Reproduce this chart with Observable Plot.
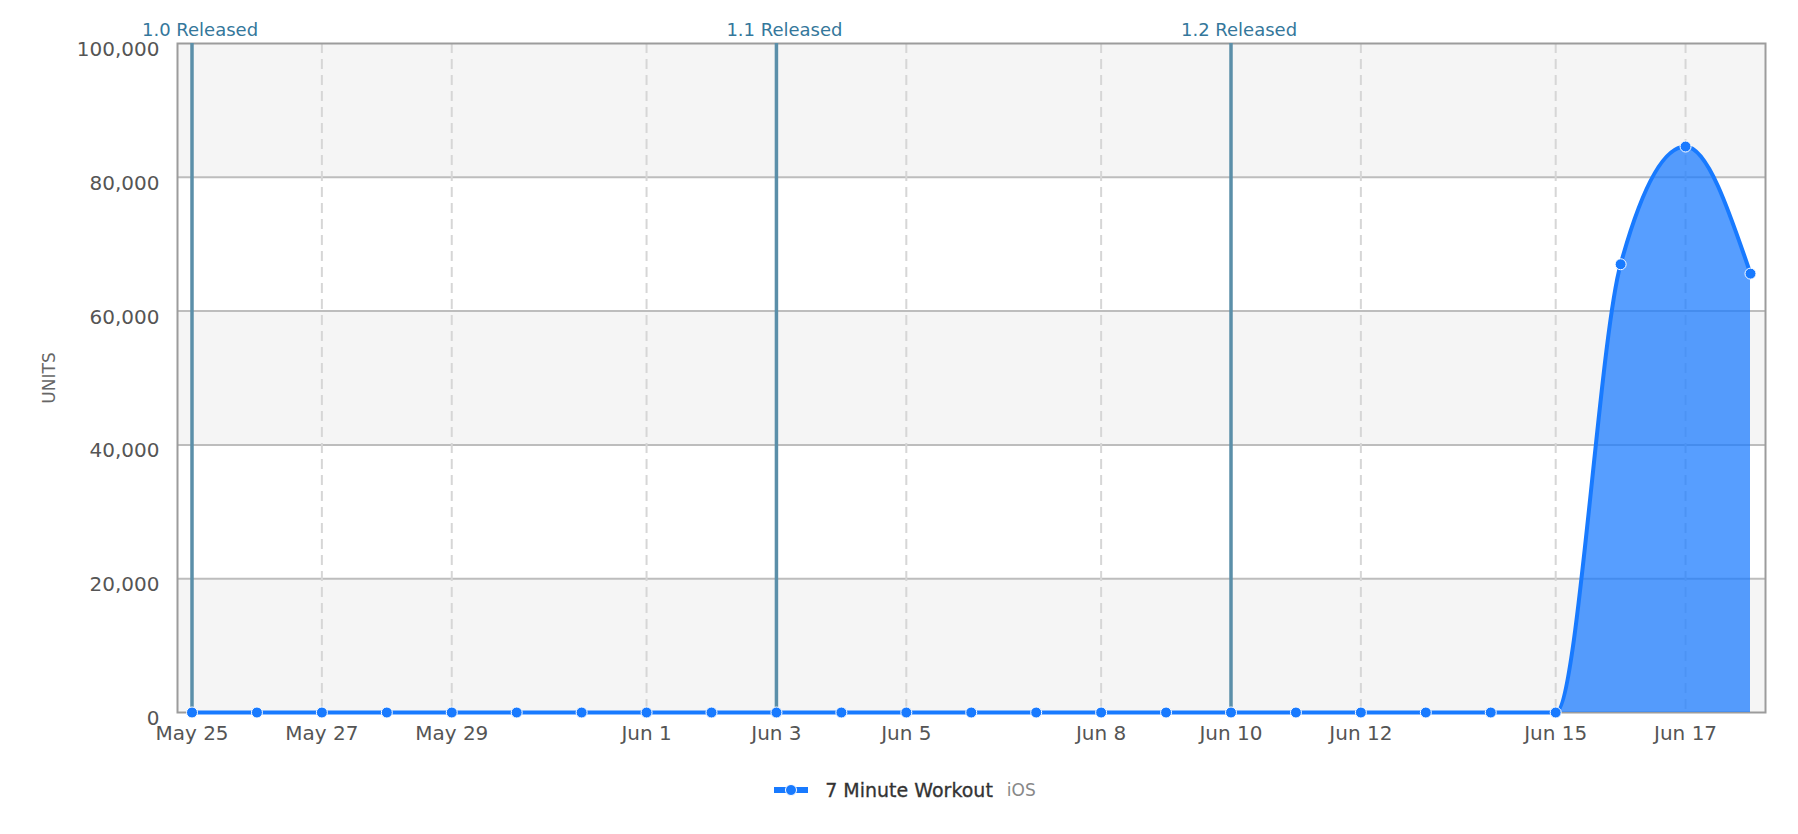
<!DOCTYPE html>
<html>
<head>
<meta charset="utf-8">
<script src="https://cdn.jsdelivr.net/npm/d3@7"></script>
<script src="https://cdn.jsdelivr.net/npm/@observablehq/plot@0.6"></script>
<style>
  body { margin: 0; background: #fff; font-family: "DejaVu Sans", sans-serif; }
  #chart svg { display: block; }
  #legend { display: flex; justify-content: center; align-items: center; height: 60px; padding-left: 12px; }
  #legend svg { margin-right: 17px; }
  #legend .name { font-size: 19px; color: #333; margin-right: 14px; -webkit-text-stroke: 0.3px #333; }
  #legend .sub { font-size: 17px; color: #888; }
</style>
</head>
<body>
<div id="chart"></div>
<div id="legend">
  <svg width="34" height="14"><line x1="0" x2="34" y1="7" y2="7" stroke="#187aff" stroke-width="6"></line><circle cx="17" cy="7" r="5.5" fill="#187aff" stroke="#fff" stroke-width="1"></circle></svg>
  <span class="name">7 Minute Workout</span><span class="sub">iOS</span>
</div>
<script>
// ---- data ----
const dates = [
  "2013-05-25","2013-05-26","2013-05-27","2013-05-28","2013-05-29","2013-05-30","2013-05-31",
  "2013-06-01","2013-06-02","2013-06-03","2013-06-04","2013-06-05","2013-06-06","2013-06-07",
  "2013-06-08","2013-06-09","2013-06-10","2013-06-11","2013-06-12","2013-06-13","2013-06-14",
  "2013-06-15","2013-06-16","2013-06-17","2013-06-18"
];
const units = [
  0, 0, 0, 0, 0, 0, 0,
  0, 0, 0, 0, 0, 0, 0,
  0, 0, 0, 0, 0, 0, 0,
  0, 67000, 84600, 65600
];
const tickDateStrings = ["2013-05-25","2013-05-27","2013-05-29","2013-06-01","2013-06-03","2013-06-05",
  "2013-06-08","2013-06-10","2013-06-12","2013-06-15","2013-06-17"];
const yTicks = [0, 20000, 40000, 60000, 80000, 100000];
const releaseDates = ["2013-05-25","2013-06-03","2013-06-10"];
const releaseLabels = ["1.0 Released","1.1 Released","1.2 Released"];
const grayBandLo = [0, 40000, 80000];
const grayBandHi = [20000, 60000, 100000];

// ---- build ----
const parse = d3.utcParse("%Y-%m-%d");
const data = dates.map((d, i) => ({date: parse(d), units: units[i]}));
const tickDates = tickDateStrings.map(parse);
const releases = releaseDates.map((d, i) => ({date: parse(d), label: releaseLabels[i]}));
const bands = grayBandLo.map((lo, i) => ({lo, hi: grayBandHi[i]}));
const blue = "#187aff";

const chart = Plot.plot({
  width: 1798,
  height: 760,
  marginLeft: 177,
  marginRight: 33,
  marginTop: 43,
  marginBottom: 48,
  style: {fontFamily: "'DejaVu Sans', sans-serif", background: "white", overflow: "visible"},
  x: {type: "utc", domain: [data[0].date, data[data.length - 1].date], insetLeft: 14.5, insetRight: 15},
  y: {domain: [0, 100000]},
  marks: [
    Plot.rect(bands, {y1: "lo", y2: "hi", fill: "#f5f5f5"}),
    Plot.ruleY(yTicks.slice(1, -1), {stroke: "#bdbdbd", strokeWidth: 2}),
    Plot.ruleX(tickDates, {stroke: "#d6d6d6", strokeWidth: 2, strokeDasharray: "10,6"}),
    Plot.frame({stroke: "#9c9c9c", strokeWidth: 2}),
    Plot.ruleX(releases, {x: "date", stroke: "#5b8fa9", strokeWidth: 3.5}),
    Plot.text(releases, {x: "date", text: "label", frameAnchor: "top", lineAnchor: "bottom", dy: -8, dx: 8, fill: "#34779b", fontSize: 18}),
    Plot.areaY(data, {x: "date", y: "units", curve: "monotone-x", fill: blue, fillOpacity: 0.73}),
    Plot.lineY(data, {x: "date", y: "units", curve: "monotone-x", stroke: blue, strokeWidth: 4}),
    Plot.dot(data, {x: "date", y: "units", r: 5.5, fill: blue, stroke: "white", strokeWidth: 1}),
    Plot.axisX({ticks: tickDates, tickFormat: d3.utcFormat("%b %-d"), tickSize: 0, tickPadding: 13, fontSize: 20, fill: "#555", label: null}),
    Plot.axisY({ticks: yTicks, tickFormat: d3.format(","), tickSize: 0, tickPadding: 18, fontSize: 20, fill: "#555", dy: 6, label: null}),
    Plot.axisY({ticks: [], tickSize: 0, label: "UNITS", labelAnchor: "center", labelArrow: "none", labelOffset: 135, fontSize: 17, fill: "#666"})
  ]
});
document.getElementById("chart").appendChild(chart);
</script>
</body>
</html>
